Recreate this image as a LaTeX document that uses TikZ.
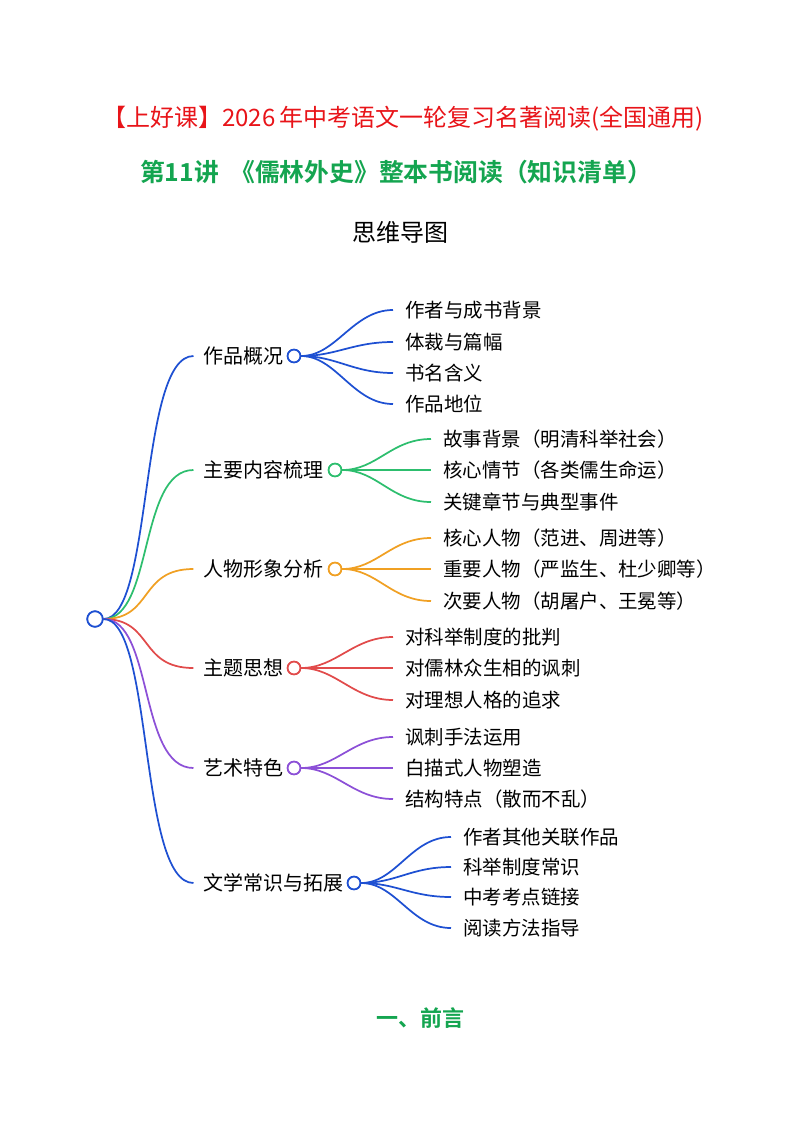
\documentclass[tikz,border=0pt]{standalone}
\usepackage{fontspec}
\setmainfont{Noto Sans CJK SC}[BoldFont={Noto Sans CJK SC Bold}]
\definecolor{cblue}{RGB}{30,80,210}
\definecolor{cgreen}{RGB}{45,190,110}
\definecolor{corange}{RGB}{240,160,35}
\definecolor{cred}{RGB}{225,75,75}
\definecolor{cpurple}{RGB}{140,80,215}
\definecolor{tred}{RGB}{232,20,25}
\definecolor{tgreen}{RGB}{20,165,80}
\begin{document}
\begin{tikzpicture}[x=0.75pt,y=-0.75pt,
  lab/.style={inner sep=0pt,font=\fontsize{15}{15}\selectfont,anchor=east},
  leaf/.style={inner sep=0pt,font=\fontsize{14.6}{15}\selectfont,anchor=west},
  circ/.style={circle,draw=#1,fill=white,line width=1.3pt,minimum size=9.5pt,inner sep=0pt},
  edge/.style={draw=#1,line width=1.3pt}]
\useasboundingbox (0,0) rectangle (800,1132);
% titles
\node[text=tred,inner sep=0pt,font=\fontsize{18}{18}\selectfont] (t1) at (403,119) {【上好课】2026\,年中考语文一轮复习名著阅读(全国通用)};
\node[text=tgreen,inner sep=0pt,font=\fontsize{18.6}{18}\selectfont\bfseries] (t2) at (396,172) {第11讲\ \ 《儒林外史》整本书阅读（知识清单）};
\node[inner sep=0pt,font=\fontsize{18}{18}\selectfont] (t3) at (400,232) {思维导图};
\node[text=tgreen,inner sep=0pt,font=\fontsize{16.5}{18}\selectfont\bfseries] (t4) at (420,1018) {一、前言};
% root
\node[circ=cblue,minimum size=11.5pt] (root) at (95,619) {};
% branch 1
\node[lab] (b1) at (284,356) {作品概况};
\node[circ=cblue] (c1) at (294,356) {};
\node[leaf] (l11) at (405,310) {作者与成书背景};
\node[leaf] (l12) at (405,342) {体裁与篇幅};
\node[leaf] (l13) at (405,373) {书名含义};
\node[leaf] (l14) at (405,404) {作品地位};
% branch 2
\node[lab] (b2) at (324,470) {主要内容梳理};
\node[circ=cgreen] (c2) at (335,470) {};
\node[leaf] (l21) at (443,439) {故事背景（明清科举社会）};
\node[leaf] (l22) at (443,470) {核心情节（各类儒生命运）};
\node[leaf] (l23) at (443,502) {关键章节与典型事件};
% branch 3
\node[lab] (b3) at (324,569) {人物形象分析};
\node[circ=corange] (c3) at (335,569) {};
\node[leaf] (l31) at (443,538) {核心人物（范进、周进等）};
\node[leaf] (l32) at (443,569) {重要人物（严监生、杜少卿等）};
\node[leaf] (l33) at (443,601) {次要人物（胡屠户、王冕等）};
% branch 4
\node[lab] (b4) at (284,668) {主题思想};
\node[circ=cred] (c4) at (294,668) {};
\node[leaf] (l41) at (405,637) {对科举制度的批判};
\node[leaf] (l42) at (405,668) {对儒林众生相的讽刺};
\node[leaf] (l43) at (405,700) {对理想人格的追求};
% branch 5
\node[lab] (b5) at (284,768) {艺术特色};
\node[circ=cpurple] (c5) at (294,768) {};
\node[leaf] (l51) at (405,737) {讽刺手法运用};
\node[leaf] (l52) at (405,768) {白描式人物塑造};
\node[leaf] (l53) at (405,799) {结构特点（散而不乱）};
% branch 6
\node[lab] (b6) at (344,883) {文学常识与拓展};
\node[circ=cblue] (c6) at (354,883) {};
\node[leaf] (l61) at (463,837) {作者其他关联作品};
\node[leaf] (l62) at (463,867) {科举制度常识};
\node[leaf] (l63) at (463,897) {中考考点链接};
\node[leaf] (l64) at (463,928) {阅读方法指导};
% root edges
\foreach \b/\c in {b1/cblue,b2/cgreen,b3/corange,b4/cred,b5/cpurple,b6/cblue}{
  \path[edge=\c] (root.east) .. controls +(50,0) and +(-55,0) .. ([xshift=-7.5pt]\b.west);
}
% leaf edges
\foreach \p/\l/\c in {c1/l11/cblue,c1/l12/cblue,c1/l13/cblue,c1/l14/cblue,
  c2/l21/cgreen,c2/l22/cgreen,c2/l23/cgreen,
  c3/l31/corange,c3/l32/corange,c3/l33/corange,
  c4/l41/cred,c4/l42/cred,c4/l43/cred,
  c5/l51/cpurple,c5/l52/cpurple,c5/l53/cpurple,
  c6/l61/cblue,c6/l62/cblue,c6/l63/cblue,c6/l64/cblue}{
  \path[edge=\c] (\p.east) .. controls +(35,0) and +(-40,0) .. ([xshift=-9pt]\l.west);
}
% redraw circles on top
\foreach \n/\c/\r in {root/cblue/5.8pt,c1/cblue/4.8pt,c2/cgreen/4.8pt,c3/corange/4.8pt,c4/cred/4.8pt,c5/cpurple/4.8pt,c6/cblue/4.8pt}{
  \draw[\c,fill=white,line width=1.3pt] (\n.center) circle (\r);
}
\end{tikzpicture}
\end{document}
